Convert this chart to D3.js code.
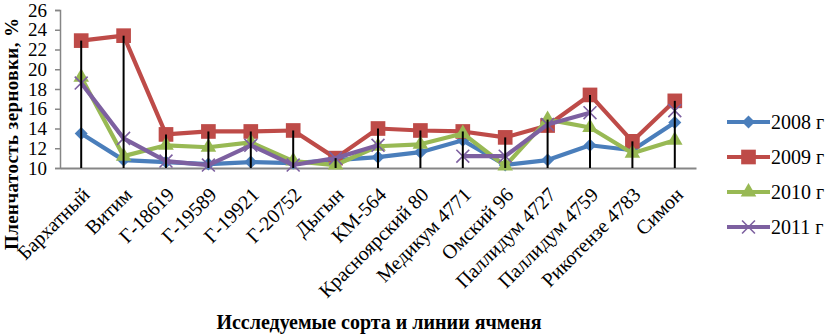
<!DOCTYPE html>
<html>
<head>
<meta charset="utf-8">
<script src="https://cdn.jsdelivr.net/npm/d3@7/dist/d3.min.js"></script>
<style>
  body { margin: 0; background: #fff; }
  svg { display: block; }
  text { font-family: "Liberation Serif", "Times New Roman", serif; fill: #000; }
</style>
</head>
<body>
<div id="chart"></div>
<script>
// Chart size
const width = 828;
const height = 335;

// Data
const categories = ["Бархатный", "Витим", "Г-18619", "Г-19589", "Г-19921", "Г-20752", "Дыгын", "КМ-564",
  "Красноярский 80", "Медикум 4771", "Омский 96", "Паллидум 4727", "Паллидум 4759", "Рикотензе 4783", "Симон"];
const years = ["2008 г", "2009 г", "2010 г", "2011 г"];
const v2008 = [13.5, 10.8, 10.6, 10.4, 10.6, 10.5, 10.8, 11.1, 11.6, 12.8, 10.3, 10.8, 12.3, 11.8, 14.6];
const v2009 = [22.9, 23.4, 13.4, 13.7, 13.7, 13.8, 11.0, 14.0, 13.8, 13.7, 13.1, 14.3, 17.4, 12.7, 16.8];
const v2010 = [19.2, 11.2, 12.3, 12.1, 12.6, 10.7, 10.3, 12.2, 12.4, 13.5, 10.2, 14.9, 14.1, 11.5, 12.8];
const v2011 = [18.6, 13.0, 10.7, 10.3, 12.3, 10.3, 11.0, 12.3, null, 11.2, 11.2, 14.4, 15.6, null, 15.8];
const yTicks = [10, 12, 14, 16, 18, 20, 22, 24, 26];

const seriesValues = [v2008, v2009, v2010, v2011];
const colors = ["#4A7EBB", "#BE4B48", "#98B954", "#7D60A0"];

const plot = { left: 60, right: 696, top: 10, bottom: 168 };

const svg = d3.select("#chart")
  .append("svg")
  .attr("width", width)
  .attr("height", height);

const x = d3.scalePoint()
  .domain(categories)
  .range([plot.left, plot.right])
  .padding(0.5);

const y = d3.scaleLinear()
  .domain([10, 26])
  .range([plot.bottom, plot.top]);

// markers: diamond, square, triangle, cross (like Excel)
function marker(sel, i) {
  if (i === 0) {
    sel.append("path")
      .attr("d", d3.symbol().type(d3.symbolSquare).size(85)())
      .attr("transform", "rotate(45)")
      .attr("fill", colors[i]);
  } else if (i === 1) {
    sel.append("path")
      .attr("d", d3.symbol().type(d3.symbolSquare).size(215)())
      .attr("fill", colors[i]);
  } else if (i === 2) {
    sel.append("path")
      .attr("d", d3.symbol().type(d3.symbolTriangle).size(105)())
      .attr("fill", colors[i]);
  } else {
    sel.append("path")
      .attr("d", d3.symbol().type(d3.symbolTimes).size(110)())
      .attr("fill", "none")
      .attr("stroke", colors[i])
      .attr("stroke-width", 1.6);
  }
}

// y axis
const yAxis = svg.append("g")
  .attr("transform", `translate(${plot.left},0)`)
  .call(d3.axisLeft(y).tickValues(yTicks).tickSize(5).tickPadding(8));
yAxis.select(".domain").attr("stroke", "#868686").attr("stroke-width", 1.5);
yAxis.selectAll(".tick line").attr("stroke", "#868686").attr("stroke-width", 1.5);
yAxis.selectAll(".tick text")
  .attr("font-size", "19px")
  .attr("font-family", "'Liberation Serif', serif")
  .attr("fill", "#000");

// x axis
const xAxis = svg.append("g")
  .attr("transform", `translate(0,${plot.bottom})`)
  .call(d3.axisBottom(x).tickSize(0).tickPadding(0));
xAxis.select(".domain").attr("stroke", "#868686").attr("stroke-width", 2);
xAxis.selectAll(".tick text")
  .attr("font-size", "20px")
  .attr("font-family", "'Liberation Serif', serif")
  .attr("fill", "#000")
  .attr("text-anchor", "end")
  .attr("dy", 0)
  .attr("y", 0)
  .attr("transform", "translate(9,28) rotate(-45)");

// series lines and markers
const line = d3.line()
  .defined(d => d.v != null)
  .x(d => x(d.c))
  .y(d => y(d.v));

seriesValues.forEach((vals, i) => {
  const pts = categories.map((c, j) => ({ c: c, v: vals[j] }));
  svg.append("path")
    .datum(pts)
    .attr("d", line)
    .attr("fill", "none")
    .attr("stroke", colors[i])
    .attr("stroke-width", 4.2)
    .attr("stroke-linejoin", "round");

  svg.selectAll(".m" + i)
    .data(pts.filter(d => d.v != null))
    .enter()
    .append("g")
    .attr("class", "m" + i)
    .attr("transform", d => `translate(${x(d.c)},${y(d.v)})`)
    .each(function() { marker(d3.select(this), i); });
});

// drop lines
svg.selectAll(".drop")
  .data(categories)
  .enter()
  .append("line")
  .attr("class", "drop")
  .attr("x1", d => x(d))
  .attr("x2", d => x(d))
  .attr("y1", (d, j) => y(d3.max(seriesValues, s => s[j])))
  .attr("y2", plot.bottom)
  .attr("stroke", "#000")
  .attr("stroke-width", 2);

// legend
const legend = svg.append("g");
years.forEach((yr, i) => {
  const ly = 122 + i * 35;
  legend.append("line")
    .attr("x1", 727).attr("x2", 770)
    .attr("y1", ly).attr("y2", ly)
    .attr("stroke", colors[i])
    .attr("stroke-width", 4.2);
  legend.append("g")
    .attr("transform", `translate(748.5,${ly})`)
    .call(marker, i);
  legend.append("text")
    .attr("x", 771)
    .attr("y", ly + 7)
    .attr("font-size", "20px")
    .text(yr);
});

// axis titles
svg.append("text")
  .attr("transform", "translate(18,134) rotate(-90)")
  .attr("text-anchor", "middle")
  .attr("font-size", "19px")
  .attr("font-weight", "bold")
  .attr("textLength", 232)
  .attr("lengthAdjust", "spacing")
  .text("Пленчатость зерновки, %");

svg.append("text")
  .attr("x", 379)
  .attr("y", 329)
  .attr("text-anchor", "middle")
  .attr("font-size", "20px")
  .attr("font-weight", "bold")
  .text("Исследуемые сорта и линии ячменя");
</script>
</body>
</html>
